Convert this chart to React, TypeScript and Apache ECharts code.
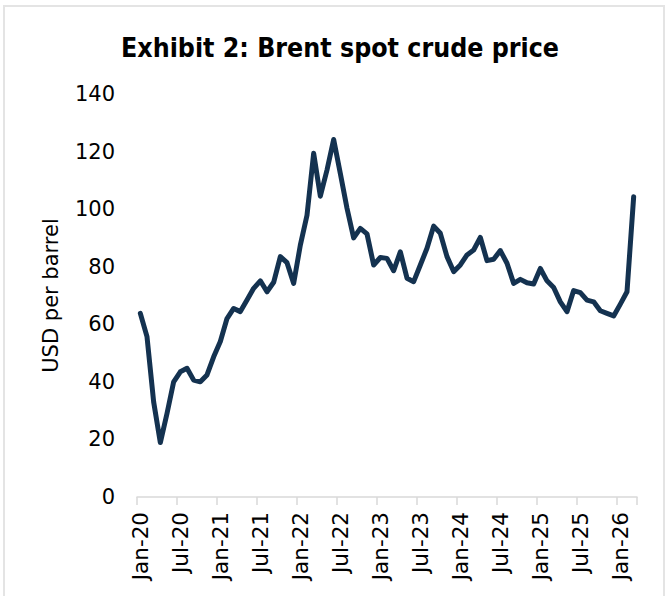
import React, { useEffect, useRef } from "react";
import * as echarts from "echarts";

const months = ["Jan", "Feb", "Mar", "Apr", "May", "Jun", "Jul", "Aug", "Sep", "Oct", "Nov", "Dec"];
const years = ["20", "21", "22", "23", "24", "25", "26"];
const categories: string[] = [];
years.forEach((y) => months.forEach((m) => categories.push(`${m}-${y}`)));
const cats = categories.slice(0, 75); // Jan-20 .. Mar-26

const brent = [
  // 2020
  63.8, 55.7, 33.0, 18.9, 29.0, 40.0, 43.5, 44.7, 40.6, 40.0, 42.4, 48.7,
  // 2021
  54.0, 62.0, 65.5, 64.4, 68.4, 72.5, 75.1, 71.3, 74.6, 83.5, 81.4, 74.2,
  // 2022
  87.5, 97.9, 119.4, 104.5, 113.6, 124.2, 112.4, 100.3, 90.0, 93.3, 91.4, 80.6,
  // 2023
  83.2, 82.9, 78.6, 85.2, 76.0, 74.8, 80.6, 86.4, 94.1, 91.6, 83.5, 78.3,
  // 2024
  80.6, 84.1, 85.8, 90.2, 82.1, 82.6, 85.6, 81.2, 74.2, 75.6, 74.4, 74.0,
  // 2025
  79.4, 75.1, 72.8, 67.8, 64.4, 71.7, 71.0, 68.4, 67.8, 64.7, 63.8, 62.9,
  // 2026
  67.0, 71.3, 104.3,
];

const yTicks = [0, 20, 40, 60, 80, 100, 120, 140];

export default function App() {
  const ref = useRef<HTMLDivElement>(null);
  useEffect(() => {
    document.body.style.margin = "0";
    const chart = echarts.init(ref.current!, null, { renderer: "svg" });
    chart.setOption({
      animation: false,
      backgroundColor: "#ffffff",
      title: {
        text: "Exhibit 2: Brent spot crude price",
        left: 335,
        textAlign: "center",
        top: 29,
        textStyle: {
          fontFamily: "DejaVu Sans Condensed",
          fontWeight: "bold",
          fontSize: 26.5,
          color: "#000000",
        },
      },
      graphic: [
        {
          type: "rect",
          shape: { x: 4, y: 6, width: 660, height: 620 },
          style: { fill: "none", stroke: "#e4e4e4", lineWidth: 2 },
          silent: true,
        },
      ],
      grid: { left: 137, right: 30, top: 94, bottom: 99, containLabel: false },
      xAxis: {
        type: "category",
        data: cats,
        boundaryGap: true,
        axisLine: { show: true, lineStyle: { color: "#d9d9d9", width: 1.5 } },
        axisTick: { show: true, interval: 5, length: 8, lineStyle: { color: "#d9d9d9", width: 1.5 } },
        axisLabel: {
          interval: 5,
          rotate: 90,
          margin: 15,
          fontFamily: "DejaVu Sans",
          fontSize: 21.5,
          color: "#000000",
        },
        splitLine: { show: false },
      },
      yAxis: {
        type: "value",
        min: yTicks[0],
        max: yTicks[yTicks.length - 1],
        interval: 20,
        name: "USD per barrel",
        nameLocation: "middle",
        nameGap: 76,
        nameRotate: 90,
        nameTextStyle: { fontFamily: "DejaVu Sans", fontSize: 21, color: "#000000" },
        axisLine: { show: false },
        axisTick: { show: false },
        splitLine: { show: false },
        axisLabel: {
          margin: 22,
          fontFamily: "DejaVu Sans",
          fontSize: 21,
          color: "#000000",
        },
      },
      series: [
        {
          type: "line",
          data: brent,
          symbol: "none",
          lineStyle: { color: "#143250", width: 5, join: "round", cap: "round" },
        },
      ],
    });
    return () => chart.dispose();
  }, []);
  return <div ref={ref} style={{ width: 667, height: 596 }} />;
}
